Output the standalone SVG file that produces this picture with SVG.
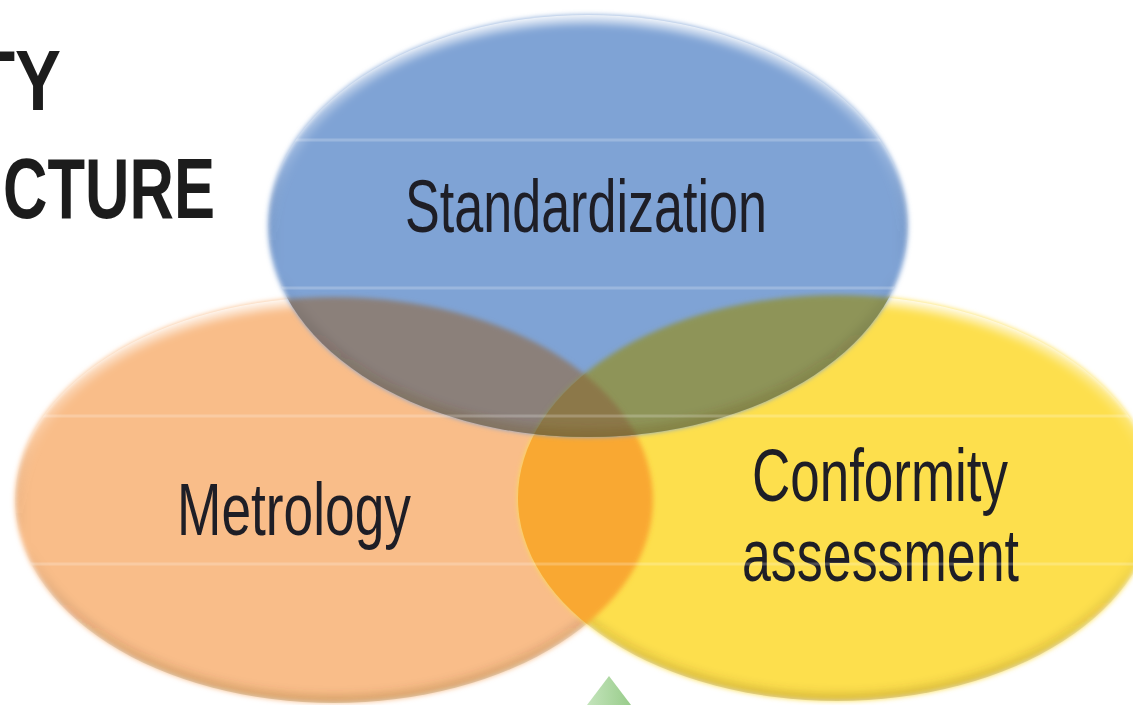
<svg xmlns="http://www.w3.org/2000/svg" width="1133" height="705" viewBox="0 0 1133 705">
<style>
.lbl{font-family:"Liberation Sans Narrow","Liberation Sans",Arial,sans-serif;font-size:74px;fill:#1e1e26}
.ttl{font-family:"Liberation Sans Narrow","Liberation Sans",Arial,sans-serif;font-size:85px;font-weight:bold;fill:#1c1c1c}
.soft{filter:url(#soft)}
.bevel{fill:none;stroke:url(#bevelG);stroke-width:16;filter:url(#soft2)}
.stripe{stroke:#ffffff;stroke-opacity:0.22;stroke-width:3}
</style>
<defs>
<filter id="soft" x="-5%" y="-5%" width="110%" height="110%"><feGaussianBlur stdDeviation="2.5"/></filter>
<filter id="soft2" x="-5%" y="-5%" width="110%" height="110%"><feGaussianBlur stdDeviation="4"/></filter>
<linearGradient id="bevelG" x1="0" y1="0" x2="0" y2="1">
<stop offset="0" stop-color="#ffffff" stop-opacity="0.75"/>
<stop offset="0.35" stop-color="#ffffff" stop-opacity="0.15"/>
<stop offset="0.6" stop-color="#000000" stop-opacity="0"/>
<stop offset="1" stop-color="#6b4a10" stop-opacity="0.22"/>
</linearGradient>
<linearGradient id="greenG" x1="0" y1="0" x2="1" y2="0">
<stop offset="0" stop-color="#c4e4bc"/>
<stop offset="1" stop-color="#98cc8a"/>
</linearGradient>
<clipPath id="clipB"><ellipse cx="588" cy="226" rx="320" ry="211"/></clipPath>
<clipPath id="clipO"><ellipse cx="334" cy="500" rx="319" ry="203"/></clipPath>
<clipPath id="clipY"><ellipse cx="837" cy="498" rx="319" ry="203"/></clipPath>
<clipPath id="clipAll">
<ellipse cx="588" cy="226" rx="320" ry="211"/>
<ellipse cx="334" cy="500" rx="319" ry="203"/>
<ellipse cx="837" cy="498" rx="319" ry="203"/>
</clipPath>
</defs>

<g id="title">
<text class="ttl" x="-27" y="110" textLength="88" lengthAdjust="spacingAndGlyphs">TY</text>
<text class="ttl" x="3" y="218" textLength="212" lengthAdjust="spacingAndGlyphs">CTURE</text>
</g>

<g id="metrology">
<ellipse class="soft" cx="334" cy="500" rx="319" ry="203" fill="#f9bd89"/>
<ellipse class="bevel" cx="334" cy="500" rx="319" ry="203" clip-path="url(#clipO)"/>
<text class="lbl" x="177" y="535" textLength="234" lengthAdjust="spacingAndGlyphs">Metrology</text>
</g>

<g id="conformity">
<ellipse class="soft" cx="837" cy="498" rx="319" ry="203" fill="#fddf4e"/>
<ellipse class="bevel" cx="837" cy="498" rx="319" ry="203" clip-path="url(#clipY)"/>
<text class="lbl" x="752" y="501" textLength="256" lengthAdjust="spacingAndGlyphs">Conformity</text>
<text class="lbl" x="742" y="581" textLength="277" lengthAdjust="spacingAndGlyphs">assessment</text>
</g>

<g id="overlap-metrology-conformity" clip-path="url(#clipY)">
<ellipse class="soft" cx="334" cy="500" rx="319" ry="203" fill="#f9a833"/>
</g>

<g id="standardization">
<ellipse class="soft" cx="588" cy="226" rx="320" ry="211" fill="#7fa3d5"/>
<g clip-path="url(#clipB)">
<ellipse class="soft" cx="334" cy="500" rx="319" ry="203" fill="#8b807a"/>
<ellipse class="soft" cx="837" cy="498" rx="319" ry="203" fill="#8e9458"/>
<g clip-path="url(#clipY)">
<ellipse class="soft" cx="334" cy="500" rx="319" ry="203" fill="#8c7848"/>
</g>
</g>
<ellipse class="bevel" cx="588" cy="226" rx="320" ry="211" clip-path="url(#clipB)"/>
<text class="lbl" x="405" y="232" textLength="362" lengthAdjust="spacingAndGlyphs">Standardization</text>
</g>

<g id="stripes" clip-path="url(#clipAll)">
<line class="stripe" x1="0" y1="140" x2="1133" y2="140"/>
<line class="stripe" x1="0" y1="288" x2="1133" y2="288"/>
<line class="stripe" x1="0" y1="416" x2="1133" y2="416"/>
<line class="stripe" x1="0" y1="564" x2="1133" y2="564"/>
</g>

<g id="arrow-tip">
<polygon points="587,705 609,676 631,705" fill="url(#greenG)"/>
</g>
</svg>
